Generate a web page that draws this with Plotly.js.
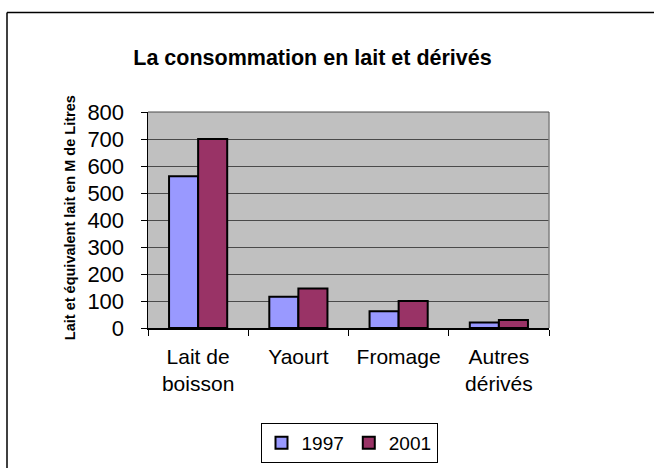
<!DOCTYPE html>
<html>
<head>
<meta charset="utf-8">
<script src="https://cdn.plot.ly/plotly-3.0.1.min.js"></script>
<style>html,body{margin:0;padding:0;background:#fff;}#chart{width:654px;height:468px;}</style>
</head>
<body>
<div id="chart"></div>
<script>
var categories = ["Lait de<br>boisson", "Yaourt", "Fromage", "Autres<br>dérivés"];
var values1997 = [562, 116, 62, 20];
var values2001 = [700, 146, 100, 30];
var seriesNames = ["1997", "2001"];
var yTicks = [0, 100, 200, 300, 400, 500, 600, 700, 800];

var FONT = "Arial, 'Liberation Sans', sans-serif";
var L = 148, R = 549, T = 111.7, B = 328;
var W = 654, H = 468;
function px(x) { return (x - L) / (R - L); }
function py(y) { return (B - y) / (B - T); }

var traces = [
  {type: "bar", name: seriesNames[0], x: categories, y: values1997,
   marker: {color: "#9999FF", line: {color: "#000000", width: 2}}},
  {type: "bar", name: seriesNames[1], x: categories, y: values2001,
   marker: {color: "#993366", line: {color: "#000000", width: 2}}}
];

var layout = {
  width: W, height: H,
  margin: {l: L, r: W - R, t: T, b: H - B, pad: 0, autoexpand: false},
  paper_bgcolor: "#ffffff",
  plot_bgcolor: "#C0C0C0",
  font: {family: FONT, color: "#000000"},
  barmode: "group",
  bargap: 0.42,
  bargroupgap: 0,
  showlegend: true,
  title: {text: "<b>La consommation en lait et dérivés</b>", font: {size: 21.5, family: FONT, color: "#000"},
          x: 312.5 / W, xref: "container", xanchor: "center", y: 1 - 57 / H, yref: "container", yanchor: "middle"},
  xaxis: {type: "category", range: [-0.5, 3.5], tickson: "boundaries", ticks: "outside", ticklen: 6,
          tickcolor: "#000", tickwidth: 1, showline: true, linecolor: "#000", linewidth: 1.5,
          showgrid: false, tickfont: {size: 21, family: FONT, color: "#000"}, fixedrange: true,
          ticklabelstandoff: 9, automargin: false},
  yaxis: {range: [0, 800], tickvals: yTicks, ticktext: yTicks.map(String), ticks: "outside", ticklen: 6,
          tickcolor: "#000", tickwidth: 1, showline: true, linecolor: "#000", linewidth: 1.5,
          showgrid: true, gridcolor: "#4a4a4a", gridwidth: 1, zeroline: false,
          tickfont: {size: 22, family: FONT, color: "#000"}, ticklabelstandoff: 12, fixedrange: true,
          automargin: false},
  legend: {orientation: "h", xref: "container", yref: "container", x: 349 / W, xanchor: "center",
           y: 1 - 423 / H, yanchor: "top",
           bordercolor: "#000", borderwidth: 1, bgcolor: "#fff",
           font: {size: 19, family: FONT, color: "#000"}, itemwidth: 30, tracegroupgap: 0},
  annotations: [
    {text: "<b>Lait et équivalent lait en M de Litres</b>", textangle: -90, showarrow: false,
     xref: "paper", yref: "paper", x: px(70), y: py(218), xanchor: "center", yanchor: "middle",
     font: {size: 14.5, family: FONT, color: "#000"}}
  ],
  shapes: [
    {type: "line", xref: "paper", yref: "paper", x0: 1, x1: 1, y0: 0, y1: 1, line: {color: "#808080", width: 1.5}},
    {type: "line", xref: "paper", yref: "paper", x0: 0, x1: 1, y0: 1, y1: 1, line: {color: "#4a4a4a", width: 1}},
    {type: "line", xref: "paper", yref: "paper", x0: px(7), x1: px(700), y0: py(12), y1: py(12), line: {color: "#000", width: 1.5}},
    {type: "line", xref: "paper", yref: "paper", x0: px(7), x1: px(7), y0: py(12), y1: py(520), line: {color: "#000", width: 1.5}}
  ]
};

Plotly.newPlot("chart", traces, layout, {displayModeBar: false, staticPlot: true});
</script>
</body>
</html>
